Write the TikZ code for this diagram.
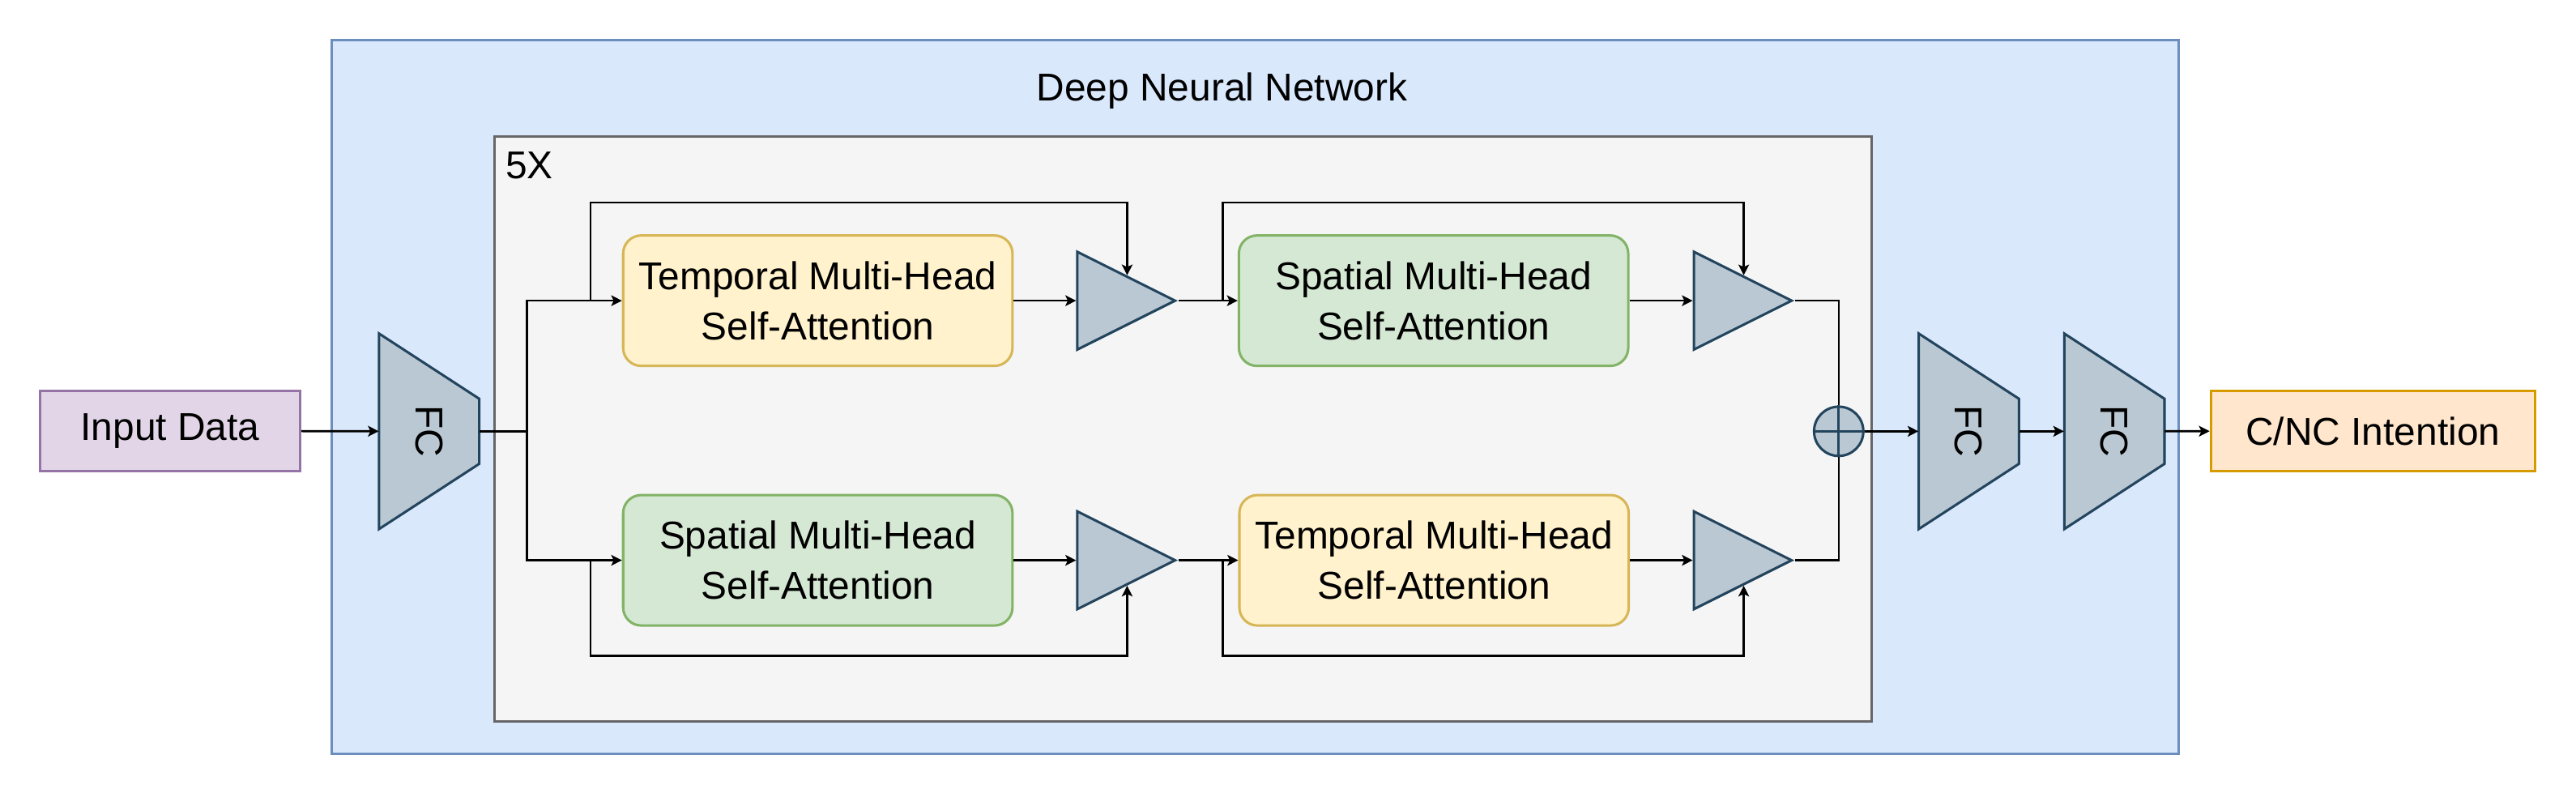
\documentclass[tikz,border=0pt]{standalone}
\usepackage{fontspec}
\setmainfont{Liberation Sans}
\usetikzlibrary{shapes.geometric, arrows.meta}

\definecolor{dnnfill}{HTML}{DAE8FC}
\definecolor{dnnline}{HTML}{6C8EBF}
\definecolor{repfill}{HTML}{F5F5F5}
\definecolor{repline}{HTML}{666666}
\definecolor{infill}{HTML}{E1D5E7}
\definecolor{inline}{HTML}{9673A6}
\definecolor{outfill}{HTML}{FFE6CC}
\definecolor{outline}{HTML}{D79B00}
\definecolor{tempfill}{HTML}{FFF2CC}
\definecolor{templine}{HTML}{D6B656}
\definecolor{spatfill}{HTML}{D5E8D4}
\definecolor{spatline}{HTML}{82B366}
\definecolor{fcfill}{HTML}{BAC8D3}
\definecolor{fcline}{HTML}{23445D}

\begin{document}
\begin{tikzpicture}[x=1pt, y=-1pt,
    font=\fontsize{23.6}{30.4}\selectfont,
    frame/.style={rectangle, line width=1.5pt, inner sep=0pt},
    io/.style={rectangle, line width=1.5pt, minimum height=49, inner sep=0pt},
    attn/.style={rectangle, rounded corners=11pt, line width=1.5pt, minimum width=237, minimum height=79.4, inner sep=0pt, align=center},
    fc/.style={rectangle, minimum width=119, minimum height=61, inner sep=0pt, rotate=-90},
    fcshape/.style={draw=fcline, fill=fcfill, line width=1.5pt, line join=miter},
    gate/.style={isosceles triangle, isosceles triangle stretches, minimum width=59.5, minimum height=59.5, inner sep=0pt, anchor=apex, draw=fcline, fill=fcfill, line width=1.5pt},
    line/.style={line width=1.3pt},
    arrow/.style={-{Stealth[length=6.5pt, width=6.5pt, inset=1.5pt]}, line width=1.3pt}
]
\useasboundingbox (0,0) rectangle (1568,485.2);

% Rede neural profunda
\node[frame, draw=dnnline, fill=dnnfill, minimum width=1124, minimum height=434] (dnn) at (764.1,241.6) {};
\node[anchor=base] (dnntitle) at (743.8,61.6) {Deep Neural Network};

% Bloco repetido 5X
\node[frame, draw=repline, fill=repfill, minimum width=838.5, minimum height=355.6] (rep) at (720.05,261.1) {};
\node[anchor=base west, inner sep=0pt] (reptitle) at (307.5,108.5) {5X};

% Entrada e saida
\node[io, draw=inline, fill=infill, minimum width=158.5] (input) at (103.5,262.3) {Input Data};
\node[io, draw=outline, fill=outfill, minimum width=197.3] (output) at (1444.4,262.3) {C/NC Intention};

% Camadas FC
\draw[fcshape] (230.7,203) -- (230.7,322) -- (291.7,282.3) -- (291.7,242.7) -- cycle;
\node[fc] (fcin) at (261.2,262.5) {FC};
\draw[fcshape] (1167.9,203) -- (1167.9,322) -- (1228.9,282.3) -- (1228.9,242.7) -- cycle;
\node[fc] (fcmid) at (1198.4,262.5) {FC};
\draw[fcshape] (1256.5,203) -- (1256.5,322) -- (1317.5,282.3) -- (1317.5,242.7) -- cycle;
\node[fc] (fcout) at (1287,262.5) {FC};

% Ramo superior
\node[attn, draw=templine, fill=tempfill] (tempA) at (497.8,183) {Temporal Multi-Head\\Self-Attention};
\node[gate] (gateA) at (717.2,183) {};
\node[attn, draw=spatline, fill=spatfill] (spatA) at (872.6,183) {Spatial Multi-Head\\Self-Attention};
\node[gate] (gateB) at (1092.5,183) {};

% Ramo inferior
\node[attn, draw=spatline, fill=spatfill] (spatB) at (497.8,341) {Spatial Multi-Head\\Self-Attention};
\node[gate] (gateC) at (717.2,341) {};
\node[attn, draw=templine, fill=tempfill] (tempB) at (872.9,341) {Temporal Multi-Head\\Self-Attention};
\node[gate] (gateD) at (1092.5,341) {};

% Soma
\node[circle, draw=fcline, fill=fcfill, line width=1.5pt, minimum size=30, inner sep=0pt] (sum) at (1119.2,262.5) {};
\draw[fcline, line width=1.5pt] (sum.north) -- (sum.south) (sum.west) -- (sum.east);

% Pontos de derivacao
\coordinate (split) at (320.8,262.5);
\coordinate (skipA) at (359.5,183);
\coordinate (skipB) at (744.2,183);
\coordinate (skipC) at (359.5,341);
\coordinate (skipD) at (744.2,341);

% Setas
\draw[arrow] (input) -- (fcin);
\draw[line] (fcin) -- (split);
\draw[arrow] (split) |- (tempA);
\draw[arrow] (split) |- (spatB);

\draw[arrow] (tempA) -- (gateA);
\draw[arrow] (gateA.apex) -- (spatA);
\draw[arrow] (spatA) -- (gateB);
\draw[arrow] (skipA) -- ++(0,-59.8) -| (gateA.left side);
\draw[arrow] (skipB) -- ++(0,-59.8) -| (gateB.left side);

\draw[arrow] (spatB) -- (gateC);
\draw[arrow] (gateC.apex) -- (tempB);
\draw[arrow] (tempB) -- (gateD);
\draw[arrow] (skipC) -- ++(0,58.1) -| (gateC.right side);
\draw[arrow] (skipD) -- ++(0,58.1) -| (gateD.right side);

\draw[line] (gateB.apex) -| (sum);
\draw[line] (gateD.apex) -| (sum);

\draw[arrow] (sum) -- (fcmid);
\draw[arrow] (fcmid) -- (fcout);
\draw[arrow] (fcout) -- (output);

\end{tikzpicture}
\end{document}
